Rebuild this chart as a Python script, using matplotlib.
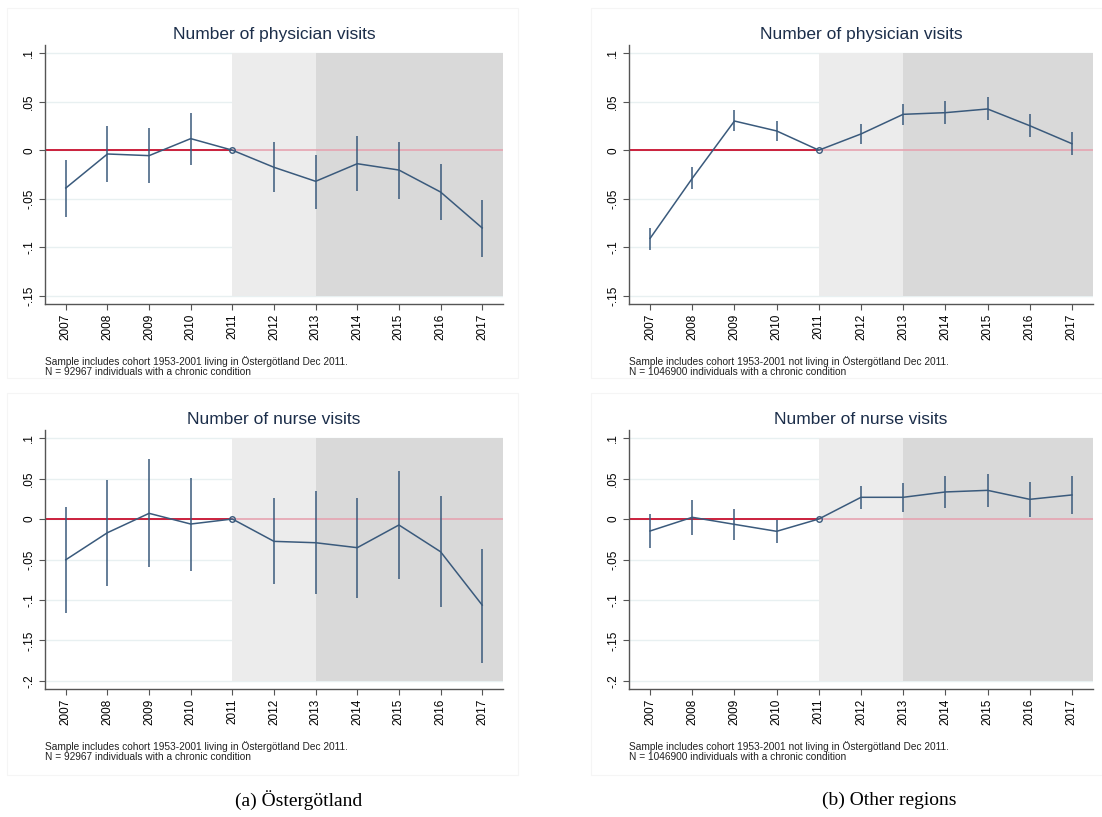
import matplotlib
matplotlib.use("Agg")
import matplotlib.pyplot as plt
from matplotlib.patches import Rectangle

plt.rcParams['font.family'] = ['Liberation Sans', 'DejaVu Sans']

years = [2007, 2008, 2009, 2010, 2011, 2012, 2013, 2014, 2015, 2016, 2017]

# Östergötland, physician visits
ost_phys = [-0.0389, -0.0039, -0.0056, 0.0119, 0.0, -0.0176, -0.0320, -0.0139, -0.0204, -0.0430, -0.0800]
ost_phys_hi = [-0.0097, 0.0252, 0.0225, 0.0386, 0.0, 0.0084, -0.0046, 0.0149, 0.0088, -0.0139, -0.0509]
ost_phys_lo = [-0.0687, -0.0327, -0.0341, -0.0149, 0.0, -0.0433, -0.0602, -0.0423, -0.0499, -0.0718, -0.1095]

# Östergötland, nurse visits
ost_nurse = [-0.0503, -0.0169, 0.0070, -0.0062, 0.0, -0.0276, -0.0293, -0.0354, -0.0074, -0.0404, -0.1063]
ost_nurse_hi = [0.0144, 0.0482, 0.0738, 0.0511, 0.0, 0.0256, 0.0346, 0.0260, 0.0593, 0.0288, -0.0375]
ost_nurse_lo = [-0.1158, -0.0828, -0.0598, -0.0639, 0.0, -0.0804, -0.0923, -0.0977, -0.0738, -0.1092, -0.1776]

# Other regions, physician visits
oth_phys = [-0.0907, -0.0289, 0.0300, 0.0198, 0.0, 0.0167, 0.0369, 0.0386, 0.0424, 0.0252, 0.0067]
oth_phys_hi = [-0.0797, -0.0173, 0.0417, 0.0300, 0.0, 0.0266, 0.0479, 0.0503, 0.0544, 0.0369, 0.0184]
oth_phys_lo = [-0.1024, -0.0403, 0.0194, 0.0091, 0.0, 0.0067, 0.0259, 0.0270, 0.0307, 0.0132, -0.0053]

# Other regions, nurse visits
oth_nurse = [-0.0148, 0.0021, -0.0066, -0.0152, 0.0, 0.0268, 0.0268, 0.0334, 0.0354, 0.0243, 0.0297]
oth_nurse_hi = [0.0058, 0.0235, 0.0128, -0.0008, 0.0, 0.0412, 0.0445, 0.0527, 0.0552, 0.0462, 0.0532]
oth_nurse_lo = [-0.0363, -0.0194, -0.0264, -0.0301, 0.0, 0.0124, 0.0091, 0.0140, 0.0152, 0.0021, 0.0062]

phys_ticks = [0.1, 0.05, 0, -0.05, -0.1, -0.15]
phys_labels = ['.1', '.05', '0', '-.05', '-.1', '-.15']
nurse_ticks = [0.1, 0.05, 0, -0.05, -0.1, -0.15, -0.2]
nurse_labels = ['.1', '.05', '0', '-.05', '-.1', '-.15', '-.2']

note_ost = "Sample includes cohort 1953-2001 living in Östergötland Dec 2011.\nN = 92967 individuals with a chronic condition"
note_oth = "Sample includes cohort 1953-2001 not living in Östergötland Dec 2011.\nN = 1046900 individuals with a chronic condition"

NAVY = '#3a5a7c'
RED = '#c8102e'
PINK = '#e6a3b1'

fig = plt.figure(figsize=(11.02, 8.17), dpi=100)
W, H = 1102, 817

# faint panel frames
for (x0, y0, x1, y1) in [(7, 8, 518, 378), (591, 8, 1102, 378), (7, 393, 518, 775), (591, 393, 1102, 775)]:
    fig.patches.append(Rectangle((x0 / W, 1 - y1 / H), (x1 - x0) / W, (y1 - y0) / H,
                                 transform=fig.transFigure, fill=False, ec='#f5f5f5', lw=0.8))


def panel(rect, title, est, hi, lo, ticks, labels, ylim, note):
    ax = fig.add_axes(rect)
    ymin, ymax = min(ticks), max(ticks)
    ax.set_xlim(2006.5, 2017.5)
    ax.set_ylim(*ylim)
    # gridlines
    for t in ticks:
        ax.axhline(t, color='#e8f0f1', lw=1.0, zorder=0)
    # reference line at zero
    ax.plot([2006.5, 2011], [0, 0], color=RED, lw=1.3, zorder=1)
    ax.plot([2011, 2017.5], [0, 0], color=PINK, lw=1.2, zorder=3)
    # shaded periods
    ax.fill_between([2011, 2013], ymin, ymax, color='#ececec', lw=0, zorder=2)
    ax.fill_between([2013, 2017.5], ymin, ymax, color='#d9d9d9', lw=0, zorder=2)
    # estimates and intervals
    ax.vlines(years, lo, hi, color=NAVY, lw=1.1, zorder=4)
    ax.plot(years, est, color=NAVY, lw=1.1, zorder=5)
    i = years.index(2011)
    ax.plot([years[i]], [est[i]], 'o', ms=4, mfc='none', mec=NAVY, mew=1.0, zorder=6)

    ax.set_yticks(ticks)
    ax.set_yticklabels(labels, rotation=90, va='center', fontsize=8.5)
    ax.set_xticks(years)
    ax.set_xticklabels([str(y) for y in years], rotation=90, fontsize=8.5)
    ax.tick_params(direction='out', length=4, width=0.8, color='#555555', pad=3)
    for s in ['top', 'right']:
        ax.spines[s].set_visible(False)
    for s in ['left', 'bottom']:
        ax.spines[s].set_color('#555555')
        ax.spines[s].set_linewidth(1.0)
    ax.set_title(title, fontsize=12.5, color='#1c2e4a', pad=4)
    ax.text(0.0, -0.20, note, transform=ax.transAxes, fontsize=7.3, va='top', ha='left',
            linespacing=1.0, color='#222222')
    return ax


def rect(x0, y0, x1, y1):
    return [x0 / W, 1 - y1 / H, (x1 - x0) / W, (y1 - y0) / H]


panel(rect(45, 45, 503, 304), 'Number of physician visits', ost_phys, ost_phys_hi, ost_phys_lo,
      phys_ticks, phys_labels, (-0.1582, 0.1082), note_ost)
panel(rect(629, 45, 1093, 304), 'Number of physician visits', oth_phys, oth_phys_hi, oth_phys_lo,
      phys_ticks, phys_labels, (-0.1582, 0.1082), note_oth)
panel(rect(45, 430, 503, 689), 'Number of nurse visits', ost_nurse, ost_nurse_hi, ost_nurse_lo,
      nurse_ticks, nurse_labels, (-0.2099, 0.1099), note_ost)
panel(rect(629, 430, 1093, 689), 'Number of nurse visits', oth_nurse, oth_nurse_hi, oth_nurse_lo,
      nurse_ticks, nurse_labels, (-0.2099, 0.1099), note_oth)

fig.text(299 / W, 1 - 800 / H, '(a) Östergötland', ha='center', va='center',
         fontsize=14, family=['Liberation Serif', 'DejaVu Serif'])
fig.text(889 / W, 1 - 800 / H, '(b) Other regions', ha='center', va='center',
         fontsize=14, family=['Liberation Serif', 'DejaVu Serif'])

fig.savefig('out.png', dpi=100)
